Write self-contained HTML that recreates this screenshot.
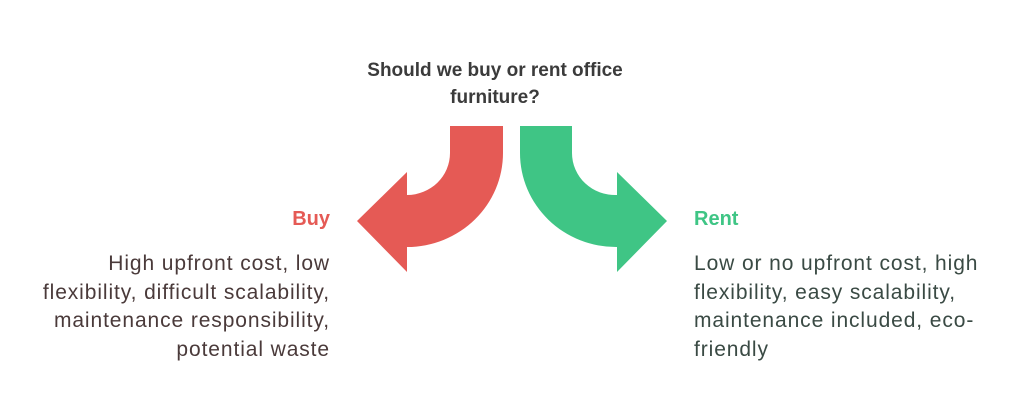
<!DOCTYPE html>
<html><head><style>
body{margin:0;width:1024px;height:416px;background:#fff;position:relative;font-family:"Liberation Sans",sans-serif;overflow:hidden}
.t{position:absolute;left:335px;width:320px;top:57px;text-align:center;font-weight:bold;font-size:19px;line-height:27px;color:#3b3b3b}
.h{position:absolute;font-weight:bold;font-size:20px;top:208px}
.b{position:absolute;font-size:21px;letter-spacing:0.9px;line-height:28.5px;top:250px;color:#4a3a3a;white-space:nowrap}
</style></head><body>
<div class="t">Should we buy or rent office<br>furniture?</div>
<svg width="1024" height="416" style="position:absolute;left:0;top:0">
<path d="M450 126 H503 V153 A96 94 0 0 1 407 247 V272 L357 221 L407 172 V195 A43 42 0 0 0 450 153 Z" fill="#e55a55"/>
<path d="M572 126 H520 V153 A96 94 0 0 0 617 247 V272 L667 221 L617 172 V195 A43 42 0 0 1 572 153 Z" fill="#3fc585"/>
</svg>
<div class="h" style="right:694px;color:#e55a55">Buy</div>
<div class="b" style="right:694px;text-align:right">High upfront cost, low<br>flexibility, difficult scalability,<br>maintenance responsibility,<br>potential waste</div>
<div class="h" style="left:694px;color:#3fc585">Rent</div>
<div class="b" style="left:694px;color:#3a4a44">Low or no upfront cost, high<br>flexibility, easy scalability,<br>maintenance included, eco-<br>friendly</div>
</body></html>
